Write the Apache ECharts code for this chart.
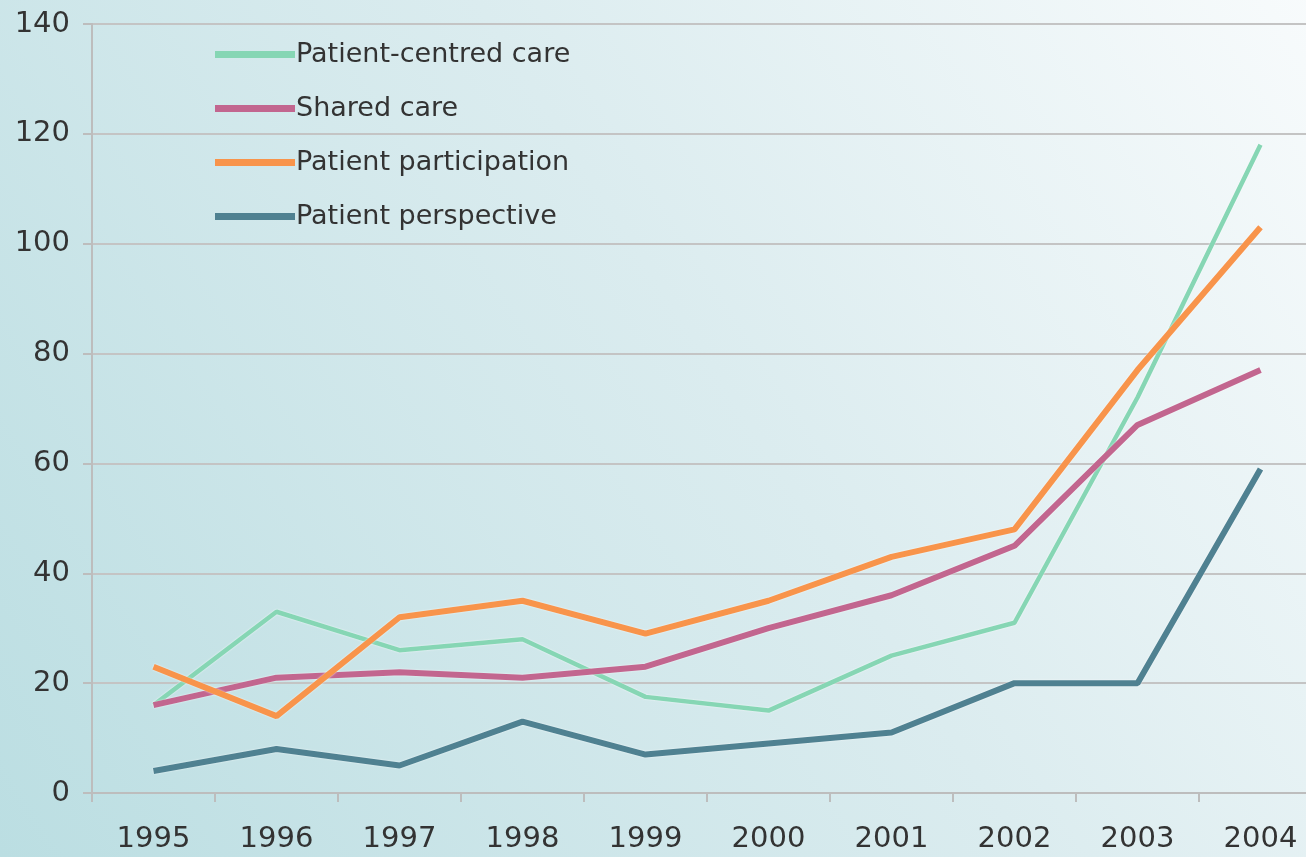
<!DOCTYPE html>
<html><head><meta charset="utf-8">
<script src="https://cdn.jsdelivr.net/npm/echarts@6/dist/echarts.min.js"></script>
<style>html,body{margin:0;padding:0;overflow:hidden;width:1306px;height:857px;}#c{width:1322px;height:857px;}</style>
</head><body><div id="c"></div>
<script>
const years = ['1995','1996','1997','1998','1999','2000','2001','2002','2003','2004'];
const patientCentred = [16, 33, 26, 28, 17.5, 15, 25, 31, 72, 118];
const sharedCare = [16, 21, 22, 21, 23, 30, 36, 45, 67, 77];
const participation = [23, 14, 32, 35, 29, 35, 43, 48, 77, 103];
const perspective = [4, 8, 5, 13, 7, 9, 11, 20, 20, 59];
const names = ['Patient-centred care','Shared care','Patient participation','Patient perspective'];
const colors = ['#86d6b4','#c2668f','#f8944b','#4f8191'];

const chart = echarts.init(document.getElementById('c'));
const mk = (name, data, color, w) => ({
  name, type:'line', data, symbol:'none', color,
  lineStyle:{color, width:w, shadowColor:'rgba(255,255,255,0.8)', shadowBlur:2}
});
chart.setOption({
  animation:false,
  backgroundColor: new echarts.graphic.LinearGradient(0,1,1,0,[
    {offset:0,color:'#bbdee2'},{offset:0.55,color:'#dbecef'},{offset:1,color:'#f8fbfc'}]),
  textStyle:{fontFamily:'DejaVu Sans'},
  grid:{left:92, right:0, top:24, bottom:64, containLabel:false},
  legend:{
    orient:'vertical', left:210, top:36, itemWidth:80, itemHeight:7, itemGap:27,
    icon:'rect', data:names,
    textStyle:{fontSize:27, lineHeight:27, color:'#333', fontFamily:'DejaVu Sans', padding:[0,0,0,-4]}
  },
  xAxis:{
    type:'category', data:years, boundaryGap:true,
    axisLine:{lineStyle:{color:'#bdbdbd', width:2}},
    axisTick:{show:true, length:9, lineStyle:{color:'#bdbdbd', width:2}},
    axisLabel:{fontSize:29, color:'#333', margin:32}
  },
  yAxis:{
    type:'value', min:0, max:140, interval:20,
    axisLine:{show:true, lineStyle:{color:'#bdbdbd', width:2}},
    axisTick:{show:true, length:9, lineStyle:{color:'#bdbdbd', width:2}},
    splitLine:{lineStyle:{color:'#c4c4c4', width:2}},
    axisLabel:{fontSize:29, color:'#333', margin:22}
  },
  series:[
    mk(names[0], patientCentred, colors[0], 4.5),
    mk(names[1], sharedCare, colors[1], 6),
    mk(names[2], participation, colors[2], 6),
    mk(names[3], perspective, colors[3], 6)
  ]
});
</script></body></html>
